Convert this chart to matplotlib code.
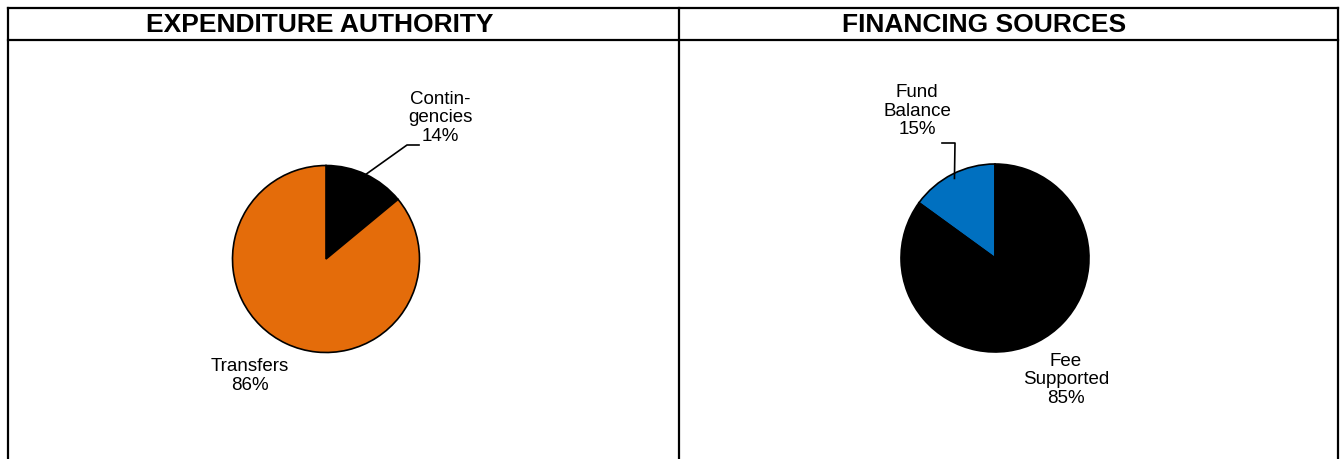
import matplotlib.pyplot as plt
import numpy as np

plt.rcParams['font.family'] = ['Liberation Sans', 'DejaVu Sans']

# data
exp_labels = ["Contin-\ngencies", "Transfers"]
exp_values = [14, 86]
exp_colors = ["#000000", "#E46C0A"]

fin_labels = ["Fund\nBalance", "Fee\nSupported"]
fin_values = [15, 85]
fin_colors = ["#0070C0", "#000000"]

titles = ["EXPENDITURE AUTHORITY", "FINANCING SOURCES"]

W, H = 1340, 459
fig = plt.figure(figsize=(W / 100, H / 100), dpi=100)

# background axes in pixel coords for the table frame and headers
bg = fig.add_axes([0, 0, 1, 1])
bg.set_xlim(0, W)
bg.set_ylim(H, 0)
bg.axis("off")
lw = 1.6
bg.plot([8, 1338], [8, 8], color="black", lw=lw)
bg.plot([8, 1338], [40, 40], color="black", lw=lw)
for x in [8, 679, 1338]:
    bg.plot([x, x], [8, H + 5], color="black", lw=lw)
bg.text(320, 25, titles[0], ha="center", va="center", fontsize=19, fontweight="bold")
bg.text(984, 25, titles[1], ha="center", va="center", fontsize=19, fontweight="bold")


def pie_axes(cx, cy, r):
    ax = fig.add_axes([(cx - r) / W, (H - cy - r) / H, 2 * r / W, 2 * r / H])
    ax.axis("off")
    return ax


def fix_limits(ax):
    ax.set_xlim(-1, 1)
    ax.set_ylim(-1, 1)
    ax.set_aspect("equal")


def label_text(lbl, val):
    return f"{lbl}\n{val}%"


fs = 13.5
ls = 1.15

# expenditure pie
r1 = 93.5
ax1 = pie_axes(326, 259, r1)
ax1.pie(exp_values, colors=exp_colors, startangle=90, counterclock=False, radius=1,
        wedgeprops=dict(edgecolor="black", linewidth=1.2))
fix_limits(ax1)
a = np.deg2rad(90 - exp_values[0] / sum(exp_values) * 360 / 2)
p0 = (np.cos(a), np.sin(a))
elbow = ((407 - 326) / r1, (259 - 145) / r1)
end = ((419 - 326) / r1, elbow[1])
ax1.plot([p0[0], elbow[0], end[0]], [p0[1], elbow[1], end[1]], color="black", lw=1.2, clip_on=False)
ax1.text((440 - 326) / r1, (259 - 118) / r1, label_text(exp_labels[0], exp_values[0]),
         ha="center", va="center", fontsize=fs, linespacing=ls)
ax1.text((250 - 326) / r1, (259 - 376) / r1, label_text(exp_labels[1], exp_values[1]),
         ha="center", va="center", fontsize=fs, linespacing=ls)

# financing pie
r2 = 94
ax2 = pie_axes(995, 258, r2)
ax2.pie(fin_values, colors=fin_colors, startangle=90, counterclock=True, radius=1,
        wedgeprops=dict(edgecolor="black", linewidth=1.2))
fix_limits(ax2)
a = np.deg2rad(90 + fin_values[0] / sum(fin_values) * 360 / 2)
p0 = (0.95 * np.cos(a), 0.95 * np.sin(a))
elbow = ((955 - 995) / r2, (258 - 143) / r2)
end = ((942 - 995) / r2, elbow[1])
ax2.plot([p0[0], elbow[0], end[0]], [p0[1], elbow[1], end[1]], color="black", lw=1.2, clip_on=False)
ax2.text((917 - 995) / r2, (258 - 111) / r2, label_text(fin_labels[0], fin_values[0]),
         ha="center", va="center", fontsize=fs, linespacing=ls)
ax2.text((1066 - 995) / r2, (258 - 380) / r2, label_text(fin_labels[1], fin_values[1]),
         ha="center", va="center", fontsize=fs, linespacing=ls)

fig.savefig("out.png", dpi=100)
